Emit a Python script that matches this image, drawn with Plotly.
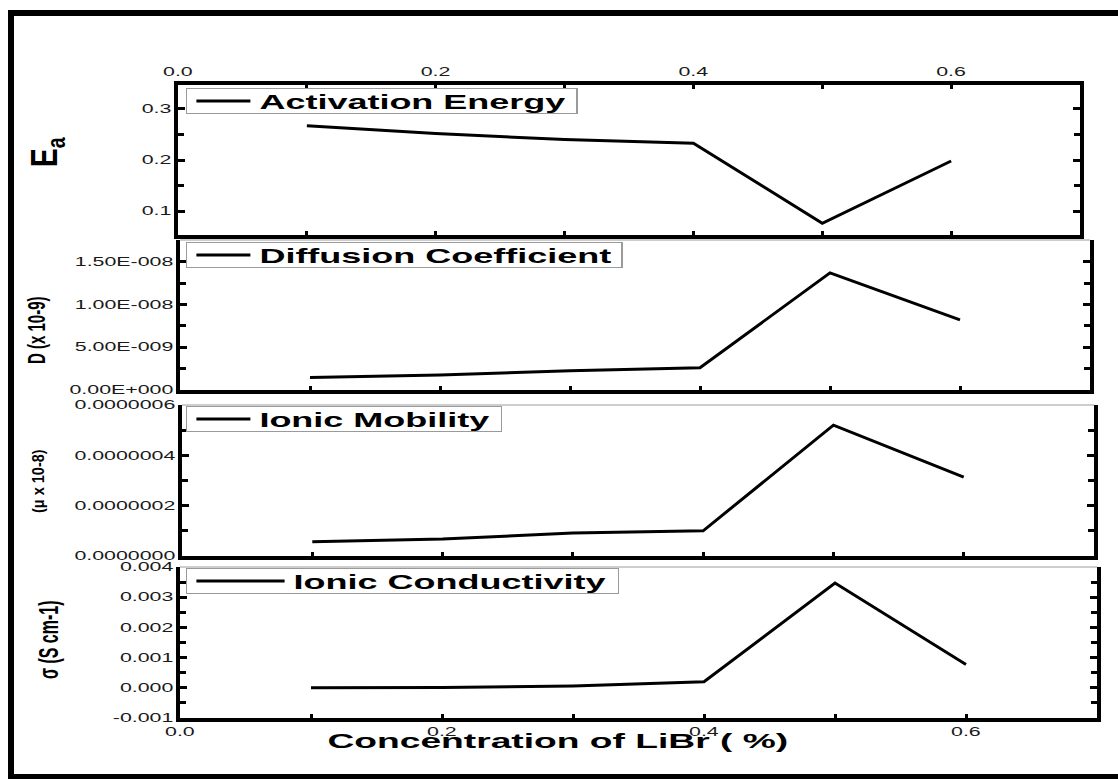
import json
import plotly.graph_objects as go

# LiBr concentration (%) and measured transport properties
conc = [0.1, 0.2, 0.3, 0.4, 0.5, 0.6]
activation_energy = [0.267, 0.252, 0.240, 0.233, 0.076, 0.198]
diffusion_coeff = [1.45e-9, 1.75e-9, 2.25e-9, 2.6e-9, 1.37e-8, 8.2e-9]
ionic_mobility = [5.7e-8, 6.8e-8, 9.1e-8, 1.0e-7, 5.2e-7, 3.13e-7]
ionic_conductivity = [0.0, 0.00001, 0.00006, 0.0002, 0.00347, 0.00077]

series_names = ["Activation Energy", "Diffusion Coefficient", "Ionic Mobility", "Ionic Conductivity"]
y_titles = ["E<sub>a</sub>", "D (x 10-9)", "(\u03bc x 10-8)", "\u03c3 (S cm-1)"]
x_title = "Concentration of LiBr ( %)"

x_tickvals = [0.0, 0.2, 0.4, 0.6]
x_ticktext = ["0.0", "0.2", "0.4", "0.6"]
ea_tickvals = [0.1, 0.2, 0.3]
ea_ticktext = ["0.1", "0.2", "0.3"]
d_tickvals = [0.0, 5e-9, 1e-8, 1.5e-8]
d_ticktext = ["0.00E+000", "5.00E-009", "1.00E-008", "1.50E-008"]
mu_tickvals = [0.0, 2e-7, 4e-7, 6e-7]
mu_ticktext = ["0.0000000", "0.0000002", "0.0000004", "0.0000006"]
s_tickvals = [-0.001, 0.0, 0.001, 0.002, 0.003, 0.004]
s_ticktext = ["-0.001", "0.000", "0.001", "0.002", "0.003", "0.004"]

W, H = 1118, 779
FONT = "Liberation Sans, Arial, sans-serif"


def px_x(p):
    return p / W


def px_y(p):
    return 1 - p / H


# panel boxes in pixels: (left, right, top, bottom)
panels = [
    (178, 1080, 85, 235),
    (180, 1090, 240, 390),
    (182, 1094, 405, 556),
    (180, 1097, 567, 718),
]
y_ranges = [[0.053, 0.347], [0.0, 1.754e-8], [0.0, 6.0e-7], [-0.001, 0.004]]
y_ticks = [(ea_tickvals, ea_ticktext, 0.05), (d_tickvals, d_ticktext, 2.5e-9),
           (mu_tickvals, mu_ticktext, 1e-7), (s_tickvals, s_ticktext, 0.0005)]
values = [activation_energy, diffusion_coeff, ionic_mobility, ionic_conductivity]
legend_ids = ["legend", "legend2", "legend3", "legend4"]
legend_tops = [88, 242, 406, 568]

fig = go.Figure()
tick_font = dict(family=FONT, size=12, color="#1a1a1a")

for i in range(4):
    n = "" if i == 0 else str(i + 1)
    fig.add_trace(go.Scatter(
        x=conc, y=values[i], mode="lines", name=series_names[i],
        line=dict(color="black", width=3),
        xaxis="x" + n, yaxis="y" + n, legend=legend_ids[i], showlegend=True,
    ))
    l, r, t, b = panels[i]
    xa = dict(
        domain=[px_x(l), px_x(r)], range=[0, 0.7], anchor="y" + n,
        tickmode="array", tickvals=x_tickvals, ticktext=x_ticktext,
        ticks="inside", ticklen=4, tickwidth=3, tickcolor="black",
        minor=dict(tickmode="linear", tick0=0, dtick=0.1, ticks="inside", ticklen=4, tickwidth=3, tickcolor="black"),
        showline=True, linecolor="black", linewidth=4, showgrid=False, zeroline=False,
        tickfont=tick_font, showticklabels=(i in (0, 3)),
    )
    if i == 0:
        xa.update(side="top", mirror="ticks")
    tv, tt, mdt = y_ticks[i]
    ya = dict(
        domain=[px_y(b), px_y(t)], range=y_ranges[i], anchor="x" + n,
        tickmode="array", tickvals=tv, ticktext=tt,
        ticks="inside", ticklen=7, tickwidth=2.5, tickcolor="black",
        minor=dict(tickmode="linear", tick0=0, dtick=mdt, ticks="inside", ticklen=6, tickwidth=2.5, tickcolor="black"),
        showline=True, linecolor="black", linewidth=4, mirror="ticks",
        showgrid=False, zeroline=False, tickfont=tick_font,
    )
    fig.update_layout(**{"xaxis" + n: xa, "yaxis" + n: ya})
    fig.update_layout(**{legend_ids[i]: dict(
        x=px_x(186), y=px_y(legend_tops[i]), xanchor="left", yanchor="top",
        xref="paper", yref="paper", bgcolor="white", bordercolor="#9a9a9a", borderwidth=1,
        font=dict(family=FONT, size=20, color="black", weight="bold"),
        itemwidth=49 if i == 3 else 30,
    )})
    if i > 0:
        # thin light frame line across the top of the lower panels
        fig.add_shape(type="line", xref="x" + n + " domain", yref="y" + n + " domain",
                      x0=0, x1=1, y0=1, y1=1, line=dict(color="#bdbdbd", width=1.5))

# axis titles: (text, centre x px, centre y px, font size, horizontal widening)
title_specs = [
    (y_titles[0], 47, 152, 28, 1.35),
    (y_titles[1], 35, 330, 15, 1.65),
    (y_titles[2], 38, 481, 14.5, 1.2),
    (y_titles[3], 48, 639, 16, 1.68),
]
widen_factors = []
for txt, cx, cy, size, k in title_specs:
    fig.add_annotation(text=txt, x=px_x(cx), y=px_y(cy), xref="paper", yref="paper",
                       xanchor="center", yanchor="middle", textangle=-90, showarrow=False,
                       font=dict(family=FONT, size=size, color="black", weight="bold"))
    widen_factors.append(k)
fig.add_annotation(text=x_title, x=px_x(558), y=px_y(741), xref="paper", yref="paper",
                   xanchor="center", yanchor="middle", showarrow=False,
                   font=dict(family=FONT, size=20, color="black", weight="bold"))
widen_factors.append(1.86)

# outer frame
fig.add_shape(type="rect", xref="paper", yref="paper",
              x0=px_x(11), x1=px_x(1130), y0=px_y(777), y1=px_y(13),
              line=dict(color="black", width=6), fillcolor="rgba(0,0,0,0)")

fig.update_layout(
    width=W, height=H,
    margin=dict(l=0, r=0, t=0, b=0, autoexpand=False),
    paper_bgcolor="white", plot_bgcolor="white",
    showlegend=True,
)

# The figure is typeset in a wide, horizontally stretched style: widen the
# lettering (and legend boxes) around their anchor points after rendering,
# and tighten the legend frames vertically around their single entry.
stretch_js = """
var gd = document.getElementById('{plot_id}');
var K_TICK = 1.78, K_LEG = 1.8, LEG_H = 25;
var K_ANN = %s;
function widen(el, k, mode, dy) {
  var r = el.getBoundingClientRect();
  if (!r.width) return null;
  var sx = mode === 'end' ? r.right : (mode === 'middle' ? (r.left + r.right) / 2 : r.left);
  var sy = (r.top + r.bottom) / 2;
  var svg = el.ownerSVGElement;
  var pt = svg.createSVGPoint(); pt.x = sx; pt.y = sy;
  var p = pt.matrixTransform(el.parentNode.getScreenCTM().inverse());
  var old = el.getAttribute('transform') || '';
  return [el, 'translate(0,' + (dy || 0) + ') translate(' + p.x + ',' + p.y + ') scale(' + k + ',1) translate(' + (-p.x) + ',' + (-p.y) + ') ' + old];
}
var jobs = [];
gd.querySelectorAll('g.xaxislayer-above text, g.yaxislayer-above text').forEach(function (t) {
  var a = t.getAttribute('text-anchor') || 'middle';
  jobs.push(widen(t, K_TICK, a, 0));
});
gd.querySelectorAll('g.annotation').forEach(function (g) {
  var idx = parseInt(g.getAttribute('data-index') || '0', 10);
  var k = K_ANN[idx] || 1;
  jobs.push(widen(g, k, 'middle', 0));
});
gd.querySelectorAll('g.infolayer > g').forEach(function (g) {
  var c = g.getAttribute('class') || '';
  if (c.indexOf('legend') !== 0) return;
  var bg = g.querySelector('rect.bg');
  var dy = 0;
  if (bg) {
    var h = parseFloat(bg.getAttribute('height'));
    var y0 = parseFloat(bg.getAttribute('y') || '0');
    if (h > LEG_H) {
      dy = (h - LEG_H) / 2;
      bg.setAttribute('y', y0 + dy);
      bg.setAttribute('height', LEG_H);
    }
  }
  jobs.push(widen(g, K_LEG, 'start', -dy));
});
jobs.forEach(function (j) { if (j) j[0].setAttribute('transform', j[1]); });
""" % json.dumps(widen_factors)

fig.write_html("out.html", post_script=stretch_js, config={"displayModeBar": False})
